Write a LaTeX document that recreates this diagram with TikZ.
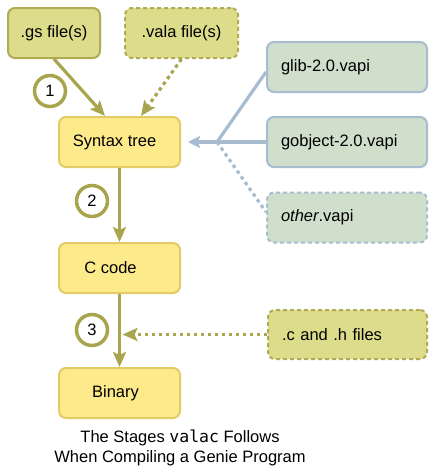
\documentclass[tikz,border=0pt]{standalone}
\usepackage{fontspec}
\setmainfont{Liberation Sans}
\newfontfamily\codefont{DejaVu Sans Mono}
\usetikzlibrary{arrows.meta,calc}
\definecolor{ylwfill}{HTML}{FDEA8B}
\definecolor{ylwdraw}{HTML}{E3CB68}
\definecolor{olvfill}{HTML}{DDDC8A}
\definecolor{olvdraw}{HTML}{B0AB55}
\definecolor{olvline}{HTML}{A9A54E}
\definecolor{grnfill}{HTML}{CFDFCB}
\definecolor{bluline}{HTML}{A8BCD0}
\tikzset{
  basebox/.style={rounded corners=7pt, line width=2pt, inner sep=0pt,
    font=\fontsize{16.5}{20}\selectfont},
  stagebox/.style={basebox, fill=ylwfill, draw=ylwdraw, minimum width=121pt, minimum height=50pt},
  srcbox/.style={basebox, fill=olvfill, draw=olvdraw},
  vapibox/.style={basebox, fill=grnfill, draw=bluline, minimum width=160pt, minimum height=50pt,
    text width=132pt, align=left, inner xsep=14pt},
  dashbox/.style={dash pattern=on 4pt off 3pt},
  stepnum/.style={circle, draw=olvline, fill=white, line width=3.5pt, minimum size=31pt, inner sep=0pt,
    font=\fontsize{16.5}{20}\selectfont},
  olvarrow/.style={draw=olvline, line width=3.2pt, -{Stealth[length=15pt,width=13pt,inset=3pt]}},
  bluarrow/.style={draw=bluline, line width=3.2pt},
  dotline/.style={dash pattern=on 3.5pt off 3.5pt},
}
\begin{document}
\begin{tikzpicture}[x=1pt,y=-1pt]
\useasboundingbox (0,0) rectangle (435,469);
% boxes
\node[srcbox, minimum width=92pt, minimum height=50pt] (gs) at (54,33) {.gs file(s)};
\node[srcbox, dashbox, minimum width=113pt, minimum height=50pt] (vala) at (181.5,33) {.vala file(s)};
\node[stagebox] (syn) at (119.5,142) {\hspace*{-10pt}Syntax tree};
\node[stagebox] (cc) at (119.5,268) {\hspace*{-18pt}C code};
\node[stagebox] (bin) at (119.5,393) {\hspace*{-8pt}Binary};
\node[vapibox] (glib) at (347,67) {glib-2.0.vapi};
\node[vapibox] (gobj) at (347,142) {gobject-2.0.vapi};
\node[vapibox, dashbox] (other) at (347,217.5) {\textit{other}.vapi};
\node[srcbox, dashbox, minimum width=159pt, minimum height=49pt, text width=131pt, align=left, inner xsep=14pt] (ch) at (347.5,334.5) {.c and .h files};
\coordinate (j) at (217,142);
% arrows
\draw[olvarrow] (gs.south) -- ($(syn.north)+(-14.5,0)$);
\draw[olvarrow, dotline] (vala.south) -- ($(syn.north)+(21.5,0)$);
\draw[olvarrow] (syn.south) -- (cc.north);
\draw[olvarrow] (cc.south) -- (bin.north);
\draw[olvarrow, dotline] (ch.west) -- ($(ch.west -| cc.south)+(3,0)$);
\draw[bluarrow] ($(glib.west)+(0,5)$) -- (j);
\draw[bluarrow, -{Stealth[length=12pt,width=12pt,inset=2pt]}, shorten >=7pt] (gobj.west) -- (syn.east);
\draw[bluarrow, dotline] (j) -- ($(other.west)+(0,-5.5)$);
% step numbers
\node[stepnum] (n1) at (50,91) {1};
\node[stepnum] (n2) at (92,201) {2};
\node[stepnum] (n3) at (92,330) {3};
% caption
\node[align=center, font=\fontsize{16.5}{20.5}\selectfont] (cap) at (180,448)
  {The Stages {\codefont valac} Follows\\When Compiling a Genie Program};
\end{tikzpicture}
\end{document}
